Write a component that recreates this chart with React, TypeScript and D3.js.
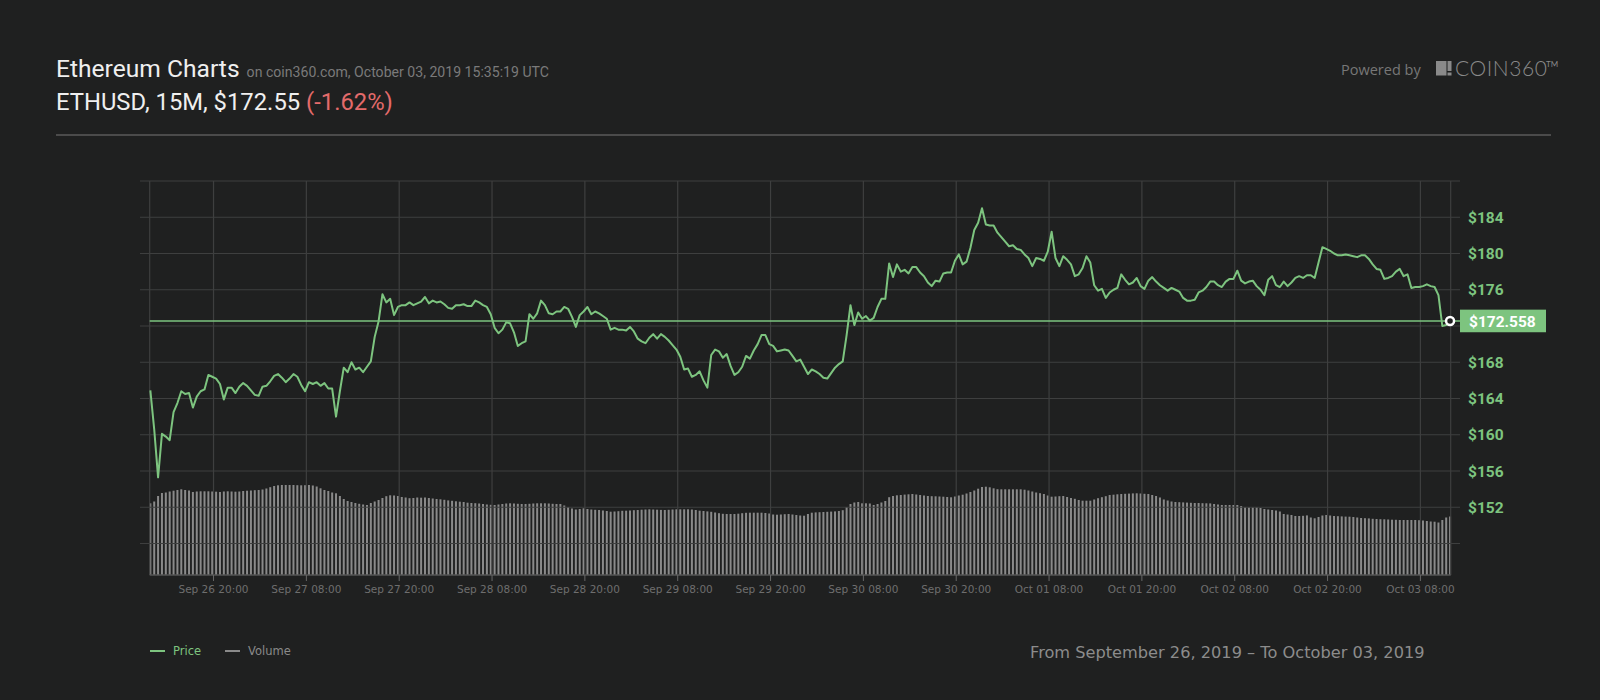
import * as d3 from "d3";

const width = 1600;
const height = 700;

// 30-minute samples starting Sep 26 2019 11:50 UTC
const startTime = Date.UTC(2019, 8, 26, 11, 50);
const stepMinutes = 30;

const prices = [
  164.9, 160.6, 155.3, 160.1, 159.8, 159.4, 162.5, 163.5, 164.8, 164.5,
  164.6, 163.0, 164.2, 164.8, 165.0, 166.6, 166.4, 166.2, 165.6, 163.9,
  165.2, 165.2, 164.6, 165.3, 165.7, 165.4, 164.9, 164.4, 164.3, 165.3,
  165.4, 165.9, 166.5, 166.7, 166.3, 165.8, 166.2, 166.7, 166.4, 165.5,
  164.8, 165.8, 165.6, 165.8, 165.4, 165.7, 165.1, 165.1, 162.0, 164.8,
  167.4, 166.9, 168.0, 167.2, 167.4, 166.9, 167.5, 168.1, 170.8, 172.5,
  175.5, 174.6, 175.0, 173.2, 174.1, 174.3, 174.3, 174.6, 174.3, 174.5,
  174.7, 175.2, 174.5, 174.8, 174.6, 174.7, 174.4, 174.0, 173.9, 174.3,
  174.3, 174.4, 174.2, 174.2, 174.8, 174.6, 174.3, 174.1, 173.3, 171.8,
  171.2, 171.6, 172.4, 172.3, 171.3, 169.8, 170.1, 170.3, 173.3, 172.8,
  173.4, 174.8, 174.3, 173.4, 173.3, 173.6, 173.6, 174.1, 173.9, 173.0,
  171.9, 173.2, 173.6, 174.1, 173.3, 173.6, 173.4, 173.1, 172.8, 171.6,
  171.8, 171.6, 171.6, 171.5, 171.9, 171.4, 170.6, 170.3, 170.1, 170.7,
  171.1, 170.6, 171.1, 170.8, 170.4, 169.9, 169.4, 168.6, 167.2, 167.3,
  166.4, 166.6, 167.0, 166.0, 165.2, 168.8, 169.4, 169.2, 168.5, 168.9,
  167.6, 166.6, 166.9, 167.5, 168.7, 168.4, 169.3, 170.0, 171.0, 171.0,
  170.0, 169.8, 169.2, 169.3, 169.4, 169.3, 168.7, 168.1, 168.3, 167.5,
  166.7, 167.2, 167.0, 166.7, 166.3, 166.2, 166.8, 167.4, 167.8, 168.1,
  171.0, 174.3, 172.1, 173.5, 172.8, 173.1, 172.6, 172.9, 174.1, 175.0,
  175.0, 178.9, 177.4, 178.8, 178.0, 178.2, 177.8, 178.5, 178.5, 177.9,
  177.5, 176.8, 176.4, 177.0, 176.9, 177.8, 177.9, 177.9, 179.2, 179.9,
  178.8, 179.1, 180.6, 182.6, 183.4, 185.0, 183.2, 183.1, 183.1, 182.3,
  181.8, 181.3, 180.8, 180.9, 180.5, 180.4, 179.9, 179.5, 178.6, 179.5,
  179.4, 179.2, 180.2, 182.4, 179.5, 178.6, 179.7, 179.3, 178.8, 177.5,
  177.7, 178.4, 179.7, 179.0, 176.5, 175.9, 176.1, 175.1, 175.7, 176.0,
  176.2, 177.7, 177.1, 176.6, 176.8, 177.3, 176.4, 176.1, 177.0, 177.4,
  176.9, 176.5, 176.2, 175.9, 176.2, 176.0, 175.8, 175.1, 174.8, 174.8,
  174.9, 175.7, 175.9, 176.3, 176.9, 176.9, 176.5, 176.3, 176.9, 177.2,
  177.2, 178.1, 177.0, 176.7, 176.9, 177.0, 176.4, 176.0, 175.4, 177.1,
  177.5, 176.5, 176.3, 176.9, 176.4, 176.8, 177.3, 177.5, 177.3, 177.6,
  177.6, 177.3, 179.0, 180.7, 180.5, 180.3, 180.0, 179.8, 179.8, 179.9,
  179.8, 179.7, 179.6, 179.8, 179.8, 179.4, 178.8, 178.3, 178.2, 177.2,
  177.3, 177.5, 178.0, 178.3, 177.5, 177.7, 176.2, 176.3, 176.3, 176.4,
  176.6, 176.4, 176.3, 175.4, 172.0, 172.1, 172.558,
];

const volumes = [
  71.7, 73.5, 79, 82, 82.5, 83.5, 84.3, 85, 85.7, 85,
  84.5, 83, 83.5, 83.7, 83.7, 83.7, 83.5, 83.3, 83, 83.5,
  83.7, 83.5, 83.3, 83.5, 84, 84.3, 84.5, 84.8, 85, 85.5,
  86.5, 87.8, 89, 89.7, 90, 90, 90, 90, 89.8, 89.7,
  89.8, 90, 89.5, 88.5, 86.7, 85, 84, 82.5, 81.7, 79,
  76, 74, 73, 72, 71.2, 70.5, 70, 72, 73.5, 75,
  77, 78.8, 79.7, 79.5, 79, 78, 77.5, 76.8, 77, 77.5,
  77.3, 77.5, 77, 76.5, 76, 75.7, 75.2, 74.6, 74.2, 73.7,
  73.3, 73, 72.3, 72, 71.8, 71.5, 71, 70.5, 70.2, 70,
  70.5, 71, 71.5, 71.7, 71.5, 71.2, 71, 71, 71.2, 71.5,
  71.7, 71.7, 71.7, 71.5, 71.2, 71, 71, 69.5, 68, 66.5,
  65.5, 66, 66.7, 66, 65.5, 65.2, 65, 64.5, 64, 63.3,
  63.5, 63.8, 64.2, 64.3, 64.5, 64.8, 65, 65.3, 65.5, 65.7,
  65.5, 65.3, 65.1, 65, 65.2, 65.5, 65.7, 65.7, 65.7, 65.7,
  65.5, 65, 64.3, 64, 63.6, 63.2, 62.5, 61.8, 61.2, 61,
  61, 61, 61.3, 61.8, 62.2, 62.3, 62.3, 62.3, 62.3, 62,
  61.5, 60.5, 60.3, 60.5, 60.8, 61, 60.5, 60, 59.5, 59.3,
  61, 62.3, 62.6, 62.8, 63, 63.2, 63.4, 63.6, 64, 64.8,
  68, 71, 72.5, 73, 71.7, 71.7, 71.5, 70, 71, 72.5,
  74, 77.8, 79, 79.7, 80, 80.4, 80.7, 81, 80.5, 80,
  79.5, 79, 78.8, 78.7, 78.5, 78.3, 78, 77.7, 78.5, 79.5,
  80.3, 81.5, 83, 84.5, 86.3, 88, 88.3, 87.7, 86.7, 85.8,
  85.7, 85.7, 85.7, 85.7, 85.7, 85.7, 85.3, 84.5, 83.5, 82.5,
  81.8, 81, 79.5, 78.3, 78.5, 78.8, 79, 78, 77, 76.2,
  75, 74.3, 74.3, 74.3, 75.5, 76.8, 77.8, 78.8, 80, 80.3,
  80.7, 81, 81.2, 81.4, 81.6, 81.7, 81.5, 81.2, 81, 80,
  79, 77.5, 75.5, 74.5, 73.5, 73, 72.8, 72.6, 72.4, 72.2,
  72, 72, 71.8, 71.7, 71.6, 71, 70.5, 70, 70, 70,
  70, 70, 69, 67.8, 67.7, 67.7, 67.7, 67, 66, 65.5,
  65, 64.5, 63.5, 61, 60.5, 60, 59, 59, 59.2, 59.6,
  57.5, 56.7, 58, 59.5, 60, 59.5, 59, 58.8, 58.6, 58.4,
  58.3, 58, 57.5, 57, 56.8, 56.6, 56.2, 56, 55.8, 55.7,
  55.5, 55.3, 55.2, 55, 55, 55, 55, 55, 54.8, 54.5,
  54, 53.5, 53.3, 52.5, 55, 57.5, 58.5,
];

const timeTicks = [
  "Sep 26 20:00", "Sep 27 08:00", "Sep 27 20:00", "Sep 28 08:00",
  "Sep 28 20:00", "Sep 29 08:00", "Sep 29 20:00", "Sep 30 08:00",
  "Sep 30 20:00", "Oct 01 08:00", "Oct 01 20:00", "Oct 02 08:00",
  "Oct 02 20:00", "Oct 03 08:00",
];
const priceGrid = [148, 152, 156, 160, 164, 168, 172, 176, 180, 184, 188];
// $172 sits under the last-price tag, so it is not labelled
const priceLabels = [152, 156, 160, 164, 168, 176, 180, 184];
const lastPrice = 172.558;

const bg = "#1f2020";
const green = "#7dc47f";
const gridColor = "#3e3f3f";
const volColor = "#8a8a8a";

const parseTick = d3.utcParse("%Y %b %d %H:%M");

const App = () => {
  const left = 149.7;
  const right = 1450.7;
  const top = 181;
  const bottom = 575;

  const x = d3.scaleUtc(
    [new Date(Date.UTC(2019, 8, 26, 11, 45)), new Date(Date.UTC(2019, 9, 3, 11, 55))],
    [left, right]
  );
  const y = d3.scaleLinear([148, 188], [543.5, top]);
  const yVol = d3.scaleLinear([0, 100], [bottom, bottom - 100]);

  const times = prices.map((_, i) => new Date(startTime + i * stepMinutes * 60000));
  const line = d3
    .line<number>()
    .x((_, i) => x(times[i]))
    .y((d) => y(d));

  const tickDates = timeTicks.map((t) => parseTick("2019 " + t)!);
  const lastX = x(times[times.length - 1]);
  const lastY = y(lastPrice);

  return (
    <div style={{ position: "absolute", left: 0, top: 0, width, height, background: bg }}>
      <svg width={width} height={height} style={{ display: "block" }}>
        <rect width={width} height={height} fill={bg} />

        {/* header */}
        <text x={56} y={77} fill="#efefef" fontFamily="Roboto" fontSize={24.6}>
          Ethereum Charts
          <tspan fill="#7a7a7a" fontSize={14.1} dx={7}>
            on coin360.com, October 03, 2019 15:35:19 UTC
          </tspan>
        </text>
        <text x={56} y={110} fill="#efefef" fontFamily="Roboto" fontSize={23.8}>
          ETHUSD, 15M, $172.55{" "}
          <tspan fill="#e36b6b">(-1.62%)</tspan>
        </text>
        <text x={1341} y={75} fill="#777" fontFamily="Open Sans" fontSize={14.5}>
          Powered by
        </text>
        <g fill="#8a8a8a">
          <rect x={1436} y={61} width={10.5} height={14.5} />
          <rect x={1447.5} y={61} width={4} height={10} />
          <rect x={1447.5} y={72.5} width={4} height={3} />
          <text x={1455} y={75.5} fontFamily="Lato" fontWeight={300} fontSize={21} letterSpacing={0.6}>
            COIN360
          </text>
          <text x={1546} y={67} fontFamily="Lato" fontSize={8}>
            TM
          </text>
        </g>
        <line x1={56} x2={1551} y1={135} y2={135} stroke="#4b4b4b" strokeWidth={2} />

        {/* volume bars */}
        <g fill={volColor}>
          {volumes.map((v, i) => (
            <rect
              key={i}
              x={x(times[i]) - 1}
              width={2}
              y={yVol(v)}
              height={bottom - yVol(v)}
            />
          ))}
        </g>

        {/* grid */}
        <g stroke={gridColor} strokeWidth={1.2}>
          {priceGrid.map((p) => (
            <line key={p} x1={140} x2={1460} y1={y(p)} y2={y(p)} />
          ))}
          <line x1={left} x2={left} y1={top} y2={bottom} />
          <line x1={right} x2={right} y1={top} y2={bottom} />
          {tickDates.map((d, i) => (
            <line key={i} x1={x(d)} x2={x(d)} y1={top} y2={bottom} />
          ))}
        </g>

        {/* x axis */}
        <line x1={left} x2={right} y1={bottom} y2={bottom} stroke="#555" strokeWidth={1.5} />
        <g>
          {tickDates.map((d, i) => (
            <g key={i}>
              <line x1={x(d)} x2={x(d)} y1={bottom} y2={bottom + 6} stroke="#666" />
              <text
                x={x(d)}
                y={593}
                textAnchor="middle"
                fill="#6e6e6e"
                fontFamily="DejaVu Sans"
                fontSize={10.5}
              >
                {timeTicks[i]}
              </text>
            </g>
          ))}
        </g>

        {/* y labels */}
        {priceLabels.map((p) => (
          <text
            key={p}
            x={1468}
            y={y(p)}
            dy="0.36em"
            fill={green}
            fontFamily="Roboto"
            fontWeight={700}
            fontSize={15.5}
          >
            ${p}
          </text>
        ))}

        {/* price */}
        <line x1={left} x2={1460} y1={lastY} y2={lastY} stroke={green} strokeWidth={1.5} />
        <path d={line(prices)!} fill="none" stroke={green} strokeWidth={2} strokeLinejoin="round" />
        <circle cx={lastX} cy={lastY} r={4} fill={bg} stroke="#fff" strokeWidth={2.5} />
        <rect x={1460} y={lastY - 11.3} width={86} height={22.6} fill={green} />
        <text
          x={1469}
          y={lastY}
          dy="0.36em"
          fill="#fff"
          fontFamily="Roboto"
          fontWeight={700}
          fontSize={15.5}
        >
          ${lastPrice}
        </text>

        {/* legend */}
        <line x1={150} x2={165} y1={651} y2={651} stroke={green} strokeWidth={2} />
        <text x={173} y={655} fill={green} fontFamily="DejaVu Sans" fontSize={11.5}>
          Price
        </text>
        <line x1={225} x2={240} y1={651} y2={651} stroke={volColor} strokeWidth={2} />
        <text x={248} y={655} fill={volColor} fontFamily="DejaVu Sans" fontSize={11.5}>
          Volume
        </text>

        <text x={1030} y={658} fill="#8c8c8c" fontFamily="DejaVu Sans" fontSize={16.2}>
          From September 26, 2019 – To October 03, 2019
        </text>
      </svg>
    </div>
  );
};

export default App;
